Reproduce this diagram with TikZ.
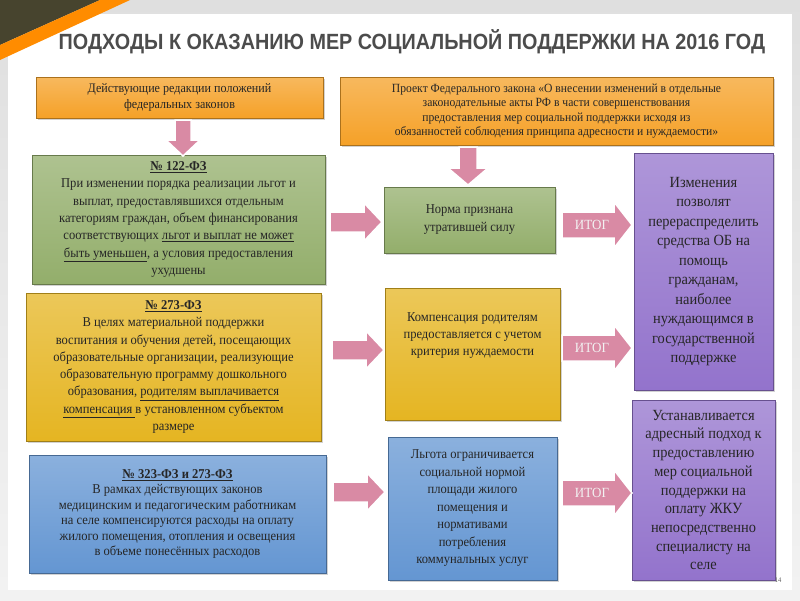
\documentclass[tikz,border=0pt]{standalone}
\usepackage{fontspec}
\setmainfont[FakeStretch=0.93]{Liberation Serif}
\newfontfamily\titlefont[FakeStretch=0.9]{Liberation Sans}
\usetikzlibrary{shadows}
\definecolor{org}{HTML}{F5A128}
\definecolor{grn}{HTML}{93AE6B}
\definecolor{yel}{HTML}{E5B522}
\definecolor{blu}{HTML}{6496D2}
\definecolor{pur}{HTML}{9373CC}
\definecolor{pnk}{HTML}{D98AA4}
\begin{document}
\begin{tikzpicture}[x=1pt,y=-1pt,
  box/.style={draw=#1!70!black,line width=0.6pt,top color=#1!75!white,bottom color=#1,drop shadow={opacity=0.35,shadow xshift=2pt,shadow yshift=-2pt},align=center,inner sep=2pt,font=\fontsize{13}{16.5}\selectfont,text=black!85},
  arrfill/.style={fill=pnk,draw=white,line width=1.5pt,line join=miter},
  pics/barrow/.style args={#1/#2/#3/#4}{code={
    \path[arrfill] (-#1/2,-#2) -- (#1/2-#4,-#2) -- (#1/2-#4,-#3) -- (#1/2,0) -- (#1/2-#4,#3) -- (#1/2-#4,#2) -- (-#1/2,#2) -- cycle;}},
  itogtxt/.style={font=\fontsize{14}{15}\selectfont,text=white!95!black}]
\useasboundingbox (0,0) rectangle (800,600);
\fill[top color=gray!25,bottom color=gray!10] (0,0) rectangle (800,600);
\fill[white] (8,14) rectangle (792,590);
\fill[black!65!olive] (0,0) -- (100,0) -- (0,45) -- cycle;
\fill[orange!90!yellow] (100,0) -- (130,0) -- (0,60) -- (0,45) -- cycle;
\node[font=\titlefont\bfseries\fontsize{22}{24}\selectfont,text=black!70] (title) at (412,42) {ПОДХОДЫ К ОКАЗАНИЮ МЕР СОЦИАЛЬНОЙ ПОДДЕРЖКИ НА 2016 ГОД};
\node[box=org,minimum width=287pt,minimum height=41pt] (o1) at (179.5,97.5) {Действующие редакции положений\\федеральных законов};
\node[box=org,minimum width=433pt,minimum height=68pt,font=\fontsize{12.5}{14.5}\selectfont] (o2) at (556.5,111) {Проект Федерального закона «О внесении изменений в отдельные\\законодательные акты РФ в части совершенствования\\предоставления мер социальной поддержки исходя из\\обязанностей соблюдения принципа  адресности и нуждаемости»};
\node[box=grn,minimum width=293pt,minimum height=129pt,font=\fontsize{13.5}{17.3}\selectfont] (g1) at (178.5,219.5) {\underline{\textbf{№ 122-ФЗ}}\\При изменении порядка реализации льгот и\\выплат, предоставлявшихся отдельным\\категориям граждан, объем финансирования\\соответствующих \underline{льгот и выплат не может}\\\underline{быть уменьшен}, а условия предоставления\\ухудшены};
\node[box=grn,minimum width=171pt,minimum height=66pt,font=\fontsize{13.5}{18}\selectfont] (g2) at (469.5,220) {Норма признана\\утратившей силу};
\node[box=pur,minimum width=139pt,minimum height=237pt,font=\fontsize{15.5}{19.5}\selectfont] (p1) at (703.5,271.5) {Изменения\\позволят\\перераспределить\\средства ОБ на\\помощь\\гражданам,\\наиболее\\нуждающимся в\\государственной\\поддержке};
\node[box=yel,minimum width=295pt,minimum height=148pt,font=\fontsize{13.5}{17.3}\selectfont] (y1) at (173.5,367) {\underline{\textbf{№ 273-ФЗ}}\\В целях материальной поддержки\\воспитания и обучения детей, посещающих\\образовательные организации, реализующие\\образовательную программу дошкольного\\образования, \underline{родителям выплачивается}\\\underline{компенсация }в установленном субъектом\\размере};
\node[box=yel,minimum width=175pt,minimum height=132pt,text depth=40pt,font=\fontsize{13.5}{17}\selectfont] (y2) at (472.5,354) {Компенсация родителям\\предоставляется с учетом\\критерия нуждаемости};
\node[box=blu,minimum width=297pt,minimum height=118pt,font=\fontsize{13.5}{15.5}\selectfont] (b1) at (177.5,514) {\underline{\textbf{№ 323-ФЗ и 273-ФЗ}}\\В рамках действующих  законов\\медицинским и педагогическим работникам\\на селе компенсируются расходы на оплату\\жилого помещения, отопления и освещения\\в объеме понесённых расходов};
\node[box=blu,minimum width=169pt,minimum height=143pt,font=\fontsize{13.5}{17.5}\selectfont] (b2) at (472.5,508.5) {Льгота ограничивается\\социальной нормой\\площади жилого\\помещения и\\нормативами\\потребления\\коммунальных услуг};
\node[box=pur,minimum width=143pt,minimum height=180pt,font=\fontsize{15.5}{18.7}\selectfont] (p2) at (703.5,490) {Устанавливается\\адресный подход к\\предоставлению\\мер социальной\\поддержки на\\оплату ЖКУ\\непосредственно\\специалисту на\\селе};
\pic[rotate=-90] (d1) at (183,138) {barrow={36/8/17/16}};
\pic[rotate=-90] (d2) at (468,166) {barrow={38/9/20/17}};
\pic (r1) at (356,222) {barrow={52/10/19/18}};
\pic (r2) at (358,350) {barrow={52/10/19/18}};
\pic (r3) at (359,492) {barrow={52/10/19/18}};
\pic (i1) at (597,225) {barrow={70/13/23/18}};
\pic (i2) at (597,348) {barrow={70/13/23/18}};
\pic (i3) at (597,493) {barrow={70/13/23/18}};
\node[itogtxt] (t1) at (592,225) {ИТОГ};
\node[itogtxt] (t2) at (592,348) {ИТОГ};
\node[itogtxt] (t3) at (592,493) {ИТОГ};
\node[font=\fontsize{7}{8}\selectfont,text=black!60] (pg) at (778,580) {14};
\end{tikzpicture}
\end{document}
